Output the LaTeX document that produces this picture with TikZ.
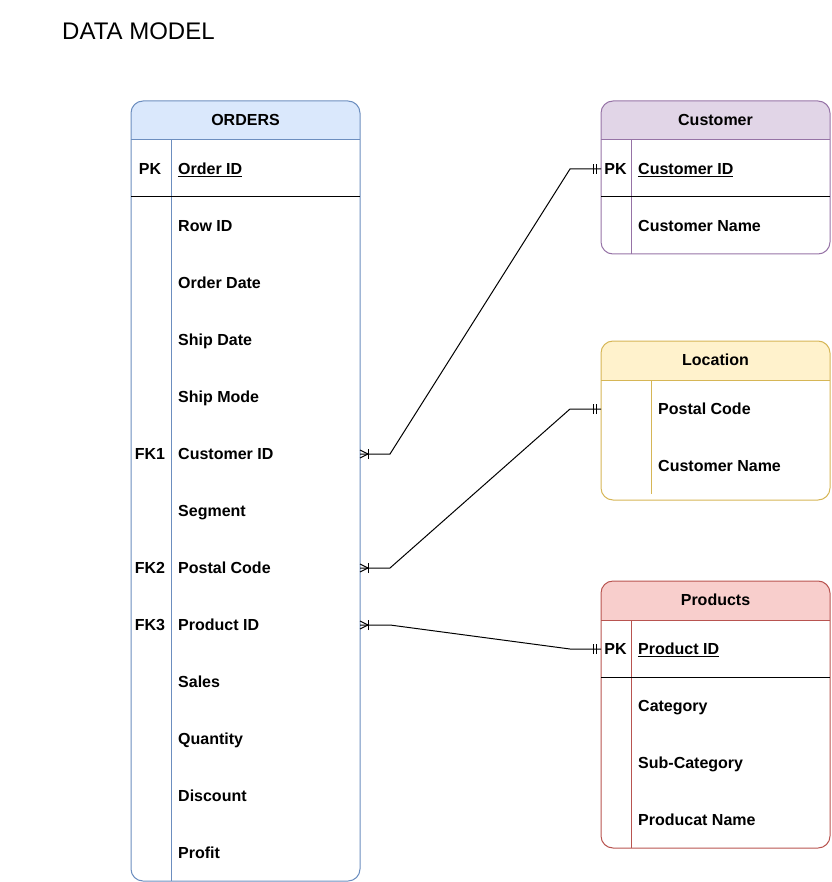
\documentclass[tikz,border=0pt]{standalone}
\usepackage{fontspec}
\setmainfont{Liberation Sans}
\definecolor{ordfill}{HTML}{DAE8FC}\definecolor{ordline}{HTML}{6C8EBF}
\definecolor{cusfill}{HTML}{E1D5E7}\definecolor{cusline}{HTML}{9673A6}
\definecolor{locfill}{HTML}{FFF2CC}\definecolor{locline}{HTML}{D6B656}
\definecolor{prdfill}{HTML}{F8CECC}\definecolor{prdline}{HTML}{B85450}
\begin{document}
\begin{tikzpicture}[x=1pt,y=-1pt,
  txt/.style={inner sep=0pt,text height=11.5pt,text depth=0.5pt,font=\fontsize{16}{19}\selectfont\bfseries},
  lbl/.style={txt,anchor=west},
  key/.style={txt,anchor=center},
  hdr/.style={txt,anchor=center},
  conn/.style={line width=1pt,black},
  tip/.style={line width=1pt,black}]
\useasboundingbox (0,0) rectangle (831,882);
\node[anchor=west,inner sep=0pt,font=\fontsize{24}{28}\selectfont] (title) at (62,31) {DATA MODEL};

% ORDERS
\begin{scope}
\clip[rounded corners=12] (131,101) rectangle (360,881);
\fill[ordfill] (131,101) rectangle (360,140);
\end{scope}
\draw[ordline,line width=1pt,rounded corners=12] (131,101) rectangle (360,881);
\draw[ordline,line width=1pt] (131,140) -- (360,140);
\draw[ordline,line width=1pt] (171,140) -- (171,881);
\draw[black,line width=1pt] (131,197) -- (360,197);
\node[hdr] (ordh) at (245.5,120) {ORDERS};
\node[key] (opk) at (150,169) {PK};
\node[lbl] (o0) at (178,169) {\underline{Order ID}};
\node[lbl] (o1) at (178,226) {Row ID};
\node[lbl] (o2) at (178,283) {Order Date};
\node[lbl] (o3) at (178,340) {Ship Date};
\node[lbl] (o4) at (178,397) {Ship Mode};
\node[key] (ofk1) at (150,454) {FK1};
\node[lbl] (o5) at (178,454) {Customer ID};
\node[lbl] (o6) at (178,511) {Segment};
\node[key] (ofk2) at (150,568) {FK2};
\node[lbl] (o7) at (178,568) {Postal Code};
\node[key] (ofk3) at (150,625) {FK3};
\node[lbl] (o8) at (178,625) {Product ID};
\node[lbl] (o9) at (178,682) {Sales};
\node[lbl] (o10) at (178,739) {Quantity};
\node[lbl] (o11) at (178,796) {Discount};
\node[lbl] (o12) at (178,853) {Profit};

% Customer
\begin{scope}
\clip[rounded corners=12] (601,101) rectangle (830,254);
\fill[cusfill] (601,101) rectangle (830,140);
\end{scope}
\draw[cusline,line width=1pt,rounded corners=12] (601,101) rectangle (830,254);
\draw[cusline,line width=1pt] (601,140) -- (830,140);
\draw[cusline,line width=1pt] (631,140) -- (631,254);
\draw[black,line width=1pt] (601,197) -- (830,197);
\node[hdr] (cush) at (715.5,120) {Customer};
\node[key] (cpk) at (615.5,169) {PK};
\node[lbl] (c0) at (638,169) {\underline{Customer ID}};
\node[lbl] (c1) at (638,226) {Customer Name};

% Location
\begin{scope}
\clip[rounded corners=12] (601,341) rectangle (830,500);
\fill[locfill] (601,341) rectangle (830,380);
\end{scope}
\draw[locline,line width=1pt,rounded corners=12] (601,341) rectangle (830,500);
\draw[locline,line width=1pt] (601,380) -- (830,380);
\draw[locline,line width=1pt] (651,380) -- (651,494);
\node[hdr] (loch) at (715.5,360) {Location};
\node[lbl] (l0) at (658,409) {Postal Code};
\node[lbl] (l1) at (658,466) {Customer Name};

% Products
\begin{scope}
\clip[rounded corners=12] (601,581) rectangle (830,848);
\fill[prdfill] (601,581) rectangle (830,620);
\end{scope}
\draw[prdline,line width=1pt,rounded corners=12] (601,581) rectangle (830,848);
\draw[prdline,line width=1pt] (601,620) -- (830,620);
\draw[prdline,line width=1pt] (631,620) -- (631,848);
\draw[black,line width=1pt] (601,677) -- (830,677);
\node[hdr] (prdh) at (715.5,600) {Products};
\node[key] (ppk) at (615.5,649) {PK};
\node[lbl] (p0) at (638,649) {\underline{Product ID}};
\node[lbl] (p1) at (638,706) {Category};
\node[lbl] (p2) at (638,763) {Sub-Category};
\node[lbl] (p3) at (638,820) {Producat Name};

% connector end points
\coordinate (oc) at (360,454);
\coordinate (ol) at (360,568);
\coordinate (op) at (360,625);
\coordinate (cc) at (601,169);
\coordinate (lc) at (601,409);
\coordinate (pc) at (601,649);

% connectors
\draw[conn] (oc) -- ++(30,0) -- ([xshift=-31pt]cc) -- (cc);
\draw[conn] (ol) -- ++(30,0) -- ([xshift=-31pt]lc) -- (lc);
\draw[conn] (op) -- ++(30,0) -- ([xshift=-31pt]pc) -- (pc);

% crow's feet (one-or-many) at ORDERS side
\foreach \c in {oc,ol,op}{
  \draw[tip] ([xshift=8pt]\c) -- ([yshift=-4pt]\c);
  \draw[tip] ([xshift=8pt]\c) -- ([yshift=4pt]\c);
  \draw[tip] ([xshift=8pt,yshift=-5pt]\c) -- ([xshift=8pt,yshift=5pt]\c);
}
% mandatory one at the other side
\foreach \c in {cc,lc,pc}{
  \draw[tip] ([xshift=-8pt,yshift=-5pt]\c) -- ([xshift=-8pt,yshift=5pt]\c);
  \draw[tip] ([xshift=-5pt,yshift=-5pt]\c) -- ([xshift=-5pt,yshift=5pt]\c);
}
\end{tikzpicture}
\end{document}
